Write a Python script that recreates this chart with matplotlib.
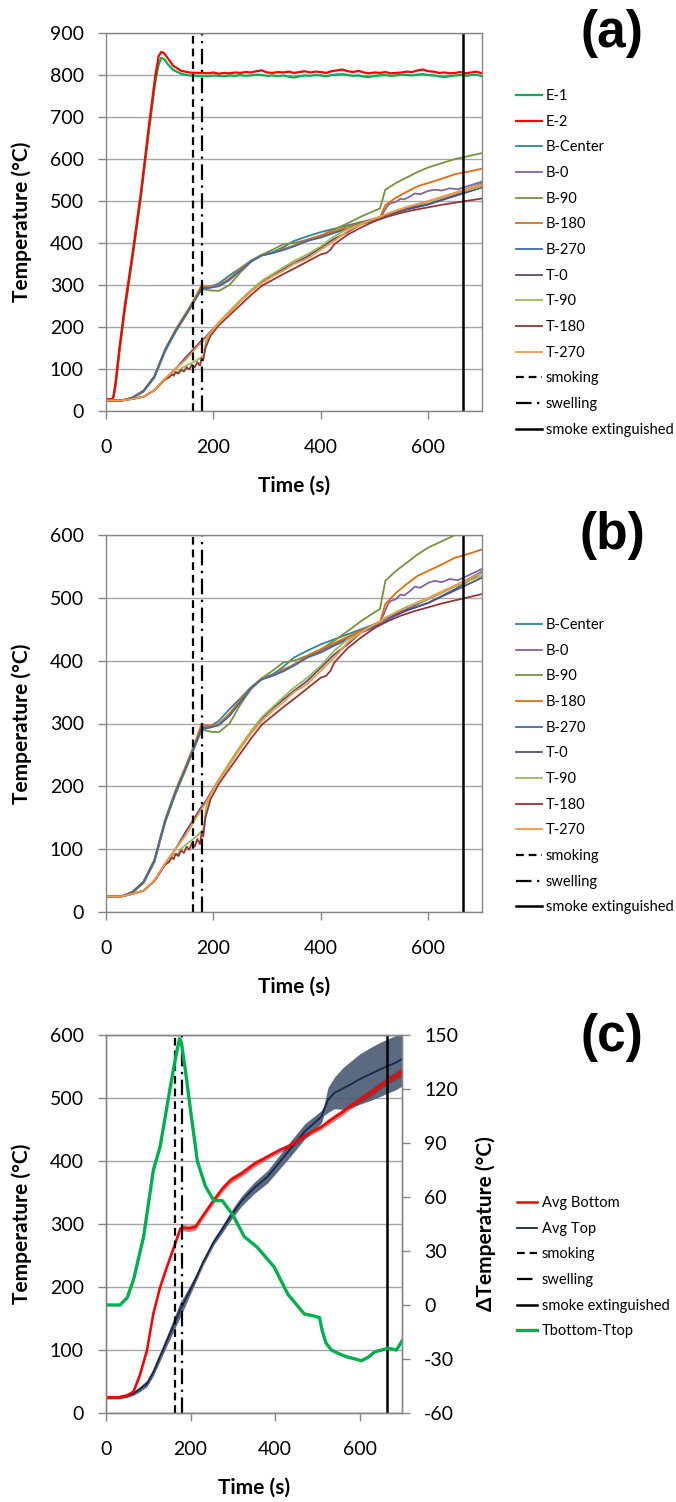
import numpy as np
import matplotlib.pyplot as plt
from matplotlib.lines import Line2D

plt.rcParams['font.family'] = ['Lato', 'DejaVu Sans']
plt.rcParams['axes.unicode_minus'] = False

# ---- furnace thermocouples (E-1, E-2) ----
t_e = [0, 11, 14, 18, 25, 35, 50, 65, 80, 92, 98, 103, 108, 115, 125, 140, 155, 170] + list(range(180, 701, 10))
e2 = [28, 28, 35, 70, 150, 250, 380, 520, 680, 800, 845, 855, 852, 840, 822, 810, 806, 805,
      805, 804, 806, 803, 805, 804, 806, 805, 807, 806, 809, 811, 806, 805, 807, 806, 808, 805,
      807, 809, 806, 808, 807, 805, 809, 811, 813, 809, 807, 810, 806, 804, 806, 805, 807, 804,
      805, 806, 808, 807, 811, 813, 809, 808, 805, 806, 804, 805, 807, 804, 806, 808, 804]
e1 = [27, 27, 33, 62, 140, 240, 370, 510, 668, 785, 825, 841, 838, 826, 812, 803, 799, 798,
      798, 797, 799, 798, 797, 799, 798, 800, 798, 799, 801, 800, 798, 799, 797, 799, 796, 794,
      797, 799, 798, 800, 799, 797, 800, 801, 802, 800, 798, 799, 796, 795, 798, 799, 800, 798,
      799, 801, 800, 799, 801, 802, 800, 799, 797, 795, 797, 799, 800, 798, 800, 801, 797]

# ---- specimen thermocouples ----
t_grid = [0, 30, 50, 70, 90, 110, 130, 150, 165, 178, 185, 195, 210, 230, 250, 270, 290, 310,
          330, 350, 375, 400, 425, 450, 475, 500, 510, 520, 540, 560, 580, 600, 625, 650, 675, 700]
b_center = [25, 25, 32, 48, 82, 146, 193, 233, 265, 295, 294, 296, 304, 323, 340, 358, 372, 378,
            390, 405, 416, 426, 434, 442, 450, 458, 462, 466, 474, 482, 490, 498, 508, 519, 530, 542]
b_90 = [25, 25, 31, 46, 79, 142, 189, 230, 262, 290, 289, 287, 286, 300, 330, 355, 372, 384,
        397, 400, 408, 418, 432, 447, 463, 477, 482, 527, 543, 556, 569, 580, 590, 600, 607, 614]
b_180 = [25, 25, 33, 49, 83, 147, 195, 236, 268, 300, 297, 296, 299, 316, 338, 357, 371, 376,
         386, 393, 408, 418, 428, 438, 448, 457, 461, 490, 508, 522, 535, 543, 553, 564, 570, 577]
b_270 = [25, 25, 32, 48, 82, 145, 192, 232, 264, 291, 292, 294, 297, 312, 334, 356, 370, 376,
         383, 392, 405, 413, 424, 434, 445, 453, 458, 463, 472, 480, 486, 492, 503, 514, 527, 540]
t_0 = [25, 25, 29, 34, 50, 77, 101, 130, 150, 168, 175, 190, 210, 236, 262, 286, 308, 324,
       338, 352, 368, 389, 410, 426, 445, 458, 462, 467, 474, 480, 486, 492, 502, 512, 522, 532]
t_270 = [25, 25, 29, 34, 50, 77, 101, 124, 146, 164, 172, 188, 209, 234, 260, 284, 304, 320,
         334, 350, 363, 384, 405, 429, 445, 458, 462, 468, 477, 485, 493, 500, 510, 520, 530, 540]

t_b0 = t_grid[:27] + [515, 520, 525, 530, 540, 548, 555, 565, 575, 585, 600, 612, 625, 640, 655, 670, 685, 700]
b_0 = [25, 25, 32, 47, 80, 143, 190, 231, 263, 293, 292, 294, 299, 314, 336, 356, 371, 377,
       385, 394, 406, 416, 426, 436, 446, 455, 460,
       470, 480, 490, 495, 498, 505, 504, 510, 518, 516, 524, 527, 525, 530, 528, 534, 540, 546]

t_t90 = [0, 30, 50, 70, 90, 110, 120, 126, 132, 138, 144, 150, 156, 162, 168, 174, 180, 183, 186, 195,
         210, 230, 250, 270, 290, 310, 330, 350, 375, 400, 425, 450, 475, 500, 510, 520, 540, 560,
         580, 600, 625, 650, 675, 700]
t_90 = [25, 25, 29, 34, 50, 76, 86, 92, 90, 99, 104, 108, 112, 116, 120, 125, 130, 138, 165, 188,
        211, 238, 264, 288, 310, 326, 342, 357, 373, 392, 416, 434, 445, 458, 462, 468, 477, 486,
        492, 498, 508, 518, 527, 535]

t_t180 = [0, 30, 50, 70, 90, 110, 118, 122, 126, 130, 135, 140, 145, 150, 155, 160, 165, 170, 175,
          178, 181, 185, 195, 210, 230, 250, 270, 290, 310, 330, 350, 375, 400, 410, 418, 425, 450,
          475, 500, 525, 550, 575, 600, 625, 650, 675, 700]
t_180 = [25, 25, 29, 34, 49, 75, 80, 87, 84, 93, 89, 98, 94, 104, 99, 110, 104, 116, 108,
         126, 120, 150, 180, 204, 228, 252, 276, 298, 312, 326, 339, 356, 373, 376, 384, 397, 420,
         437, 452, 463, 472, 479, 485, 491, 496, 501, 506]

# ---- averages and bottom-top difference ----
t_c = [0, 30, 50, 65, 80, 97, 112, 128, 144, 160, 176, 184, 195, 211, 230, 255, 275, 295,
       320, 350, 382, 410, 437, 470, 509, 515, 525, 540, 560, 580, 600, 625, 650, 667, 685, 700]
avg_bottom = [25, 25, 28, 34, 60, 100, 158, 200, 232, 262, 293, 294, 293, 295, 314, 338, 356, 370,
              380, 395, 407, 417, 425, 440, 454, 457, 462, 469, 478, 488, 497, 508, 520, 528, 535, 541]
avg_bottom_err = [3, 3, 3, 3, 3, 3, 3, 3, 3, 3, 4, 5, 5, 5, 5, 5, 5, 5,
                  5, 5, 4, 4, 4, 4, 4, 4, 5, 5, 5, 5, 5, 6, 6, 6, 7, 7]
avg_top = [25, 25, 27, 31, 38, 47, 65, 90, 115, 140, 165, 175, 190, 212, 240, 272, 292, 313,
           336, 357, 375, 398, 420, 447, 470, 480, 497, 508, 515, 522, 530, 538, 546, 551, 556, 562]
avg_top_err = [2, 2, 2, 3, 4, 5, 6, 7, 8, 10, 12, 10, 8, 6, 5, 5, 6, 7,
               8, 9, 10, 11, 12, 12, 10, 8, 20, 25, 33, 37, 40, 42, 43, 43, 43, 43]

t_d = [0, 33, 50, 65, 89, 112, 128, 152, 165, 174, 178, 188, 200, 216, 235, 255, 275, 300, 327,
       358, 398, 430, 469, 490, 505, 511, 520, 533, 550, 572, 590, 604, 620, 636, 652, 667, 687, 700]
delta = [0, 0, 4, 14, 38, 75, 88, 121, 138, 148, 146, 130, 108, 80, 66, 58, 58, 50, 38,
         32, 21, 6, -5, -6, -7, -14, -21, -25, -27, -29, -30, -31, -29, -26, -25, -24, -25, -20]

# events (s)
t_smoking = 162
t_swelling = 179
t_extinguished = 664

W, H = 676, 1502
fig = plt.figure(figsize=(W / 100, H / 100), dpi=100)
fig.patch.set_facecolor('white')

GRID = '#A6A6A6'
SPINE = '#868686'
TICK_FS = 14
LAB_FS = 15
LEG_FS = 10.5

smoke_style = dict(color='black', lw=1.6, linestyle=(0, (3.5, 2.2)))
swell_style = dict(color='black', lw=1.6, linestyle=(0, (7, 2.5, 1, 2.5)))
ext_style = dict(color='black', lw=1.8, linestyle='-')


def px_axes(left, top, right, bottom):
    return fig.add_axes([left / W, 1 - bottom / H, (right - left) / W, (bottom - top) / H])


def style_axes(ax, ymax, ystep, label_x_px, xlabel_y_px):
    ax.set_xlim(0, 700)
    ax.set_ylim(0, ymax)
    ax.set_xticks([0, 200, 400, 600])
    ax.set_yticks(np.arange(0, ymax + 1, ystep))
    ax.grid(axis='y', color=GRID, lw=1.0)
    ax.set_axisbelow(True)
    for s in ax.spines.values():
        s.set_color(SPINE)
        s.set_linewidth(1.0)
    ax.tick_params(axis='both', direction='out', length=6, width=1.0, color=SPINE,
                   labelsize=TICK_FS, pad=10)
    ax.tick_params(axis='x', pad=14)
    ax.set_xlabel('Time (s)', fontsize=LAB_FS, fontweight='bold')
    ax.set_ylabel('Temperature (°C)', fontsize=LAB_FS, fontweight='bold')
    bb = ax.get_position()
    x0, y0 = bb.x0 * W, (1 - bb.y0) * H
    wpx, hpx = bb.width * W, bb.height * H
    ax.yaxis.set_label_coords((label_x_px - x0) / wpx, 0.5)
    ax.yaxis.label.set_va('center')
    ax.xaxis.set_label_coords(0.5, -(xlabel_y_px - y0) / hpx)
    ax.xaxis.label.set_va('center')


def event_lines(ax):
    ax.axvline(t_smoking, **smoke_style)
    ax.axvline(t_swelling, **swell_style)
    ax.axvline(t_extinguished, **ext_style)


def side_legend(ax, handles, labels, x_px, top_px, hl):
    ax.legend(handles, labels, loc='upper left', bbox_to_anchor=(x_px / W, 1 - top_px / H),
              bbox_transform=fig.transFigure, frameon=False, borderpad=0, borderaxespad=0,
              handlelength=hl, handletextpad=0.3, labelspacing=0.8, fontsize=LEG_FS)


specimen = [
    ('B-Center', t_grid, b_center, '#31849B'),
    ('B-0', t_b0, b_0, '#8064A2'),
    ('B-90', t_grid, b_90, '#77933C'),
    ('B-180', t_grid, b_180, '#E46C0A'),
    ('B-270', t_grid, b_270, '#3D6CA8'),
    ('T-0', t_grid, t_0, '#604A7B'),
    ('T-90', t_t90, t_90, '#9BBB59'),
    ('T-180', t_t180, t_180, '#953735'),
    ('T-270', t_grid, t_270, '#F79646'),
]

event_handles = [Line2D([], [], **smoke_style), Line2D([], [], **swell_style), Line2D([], [], **ext_style)]
event_labels = ['smoking', 'swelling', 'smoke extinguished']

# ---------- (a) ----------
ax_a = px_axes(106, 33, 482, 411)
ha = []
ha += ax_a.plot(t_e, e1, color='#00B050', lw=1.6, label='E-1')
ha += ax_a.plot(t_e, e2, color='#FF0000', lw=1.6, label='E-2')
for name, tt, yy, c in specimen:
    ha += ax_a.plot(tt, yy, color=c, lw=1.3, label=name)
event_lines(ax_a)
style_axes(ax_a, 900, 100, 22, 486)
side_legend(ax_a, ha + event_handles, [h.get_label() for h in ha] + event_labels, 516, 89, 1.75)

# ---------- (b) ----------
ax_b = px_axes(106, 535, 482, 912)
hb = []
for name, tt, yy, c in specimen:
    hb += ax_b.plot(tt, yy, color=c, lw=1.3, label=name)
event_lines(ax_b)
style_axes(ax_b, 600, 100, 22, 987)
side_legend(ax_b, hb + event_handles, [h.get_label() for h in hb] + event_labels, 516, 618, 1.75)

# ---------- (c) ----------
ax_c = px_axes(106, 1035, 402, 1413)
ab = np.array(avg_bottom)
at = np.array(avg_top)
ax_c.fill_between(t_c, at - np.array(avg_top_err), at + np.array(avg_top_err),
                  color='#4A5A73', alpha=0.9, lw=0)
ax_c.fill_between(t_c, ab - np.array(avg_bottom_err), ab + np.array(avg_bottom_err),
                  color='#A01818', alpha=0.55, lw=0)
h_top, = ax_c.plot(t_c, avg_top, color='#17294A', lw=1.3)
h_bot, = ax_c.plot(t_c, avg_bottom, color='#FF0000', lw=1.8)
event_lines(ax_c)
style_axes(ax_c, 600, 100, 22, 1488)

ax_d = ax_c.twinx()
h_d, = ax_d.plot(t_d, delta, color='#00B050', lw=2.4)
ax_d.set_ylim(-60, 150)
ax_d.set_yticks(np.arange(-60, 151, 30))
for s in ax_d.spines.values():
    s.set_color(SPINE)
    s.set_linewidth(1.0)
ax_d.tick_params(axis='y', direction='out', length=6, width=1.0, color=SPINE,
                 labelsize=TICK_FS, pad=10)
ax_d.set_ylabel('ΔTemperature (°C)', fontsize=LAB_FS, fontweight='bold',
                family=['Lato', 'DejaVu Sans'])
ax_d.yaxis.set_label_coords((486 - 106) / 296, 0.5)
ax_d.yaxis.label.set_va('center')

side_legend(ax_d, [h_bot, h_top] + event_handles + [h_d],
            ['Avg Bottom', 'Avg Top'] + event_labels + ['Tbottom-Ttop'], 517, 1196, 1.4)

# panel letters
for letter, ypx in [('(a)', 33), ('(b)', 535), ('(c)', 1037)]:
    fig.text(612 / W, 1 - ypx / H, letter, fontsize=37, fontweight='bold',
             family='Liberation Sans', ha='center', va='center')

fig.savefig('out.png', dpi=100, facecolor='white')
